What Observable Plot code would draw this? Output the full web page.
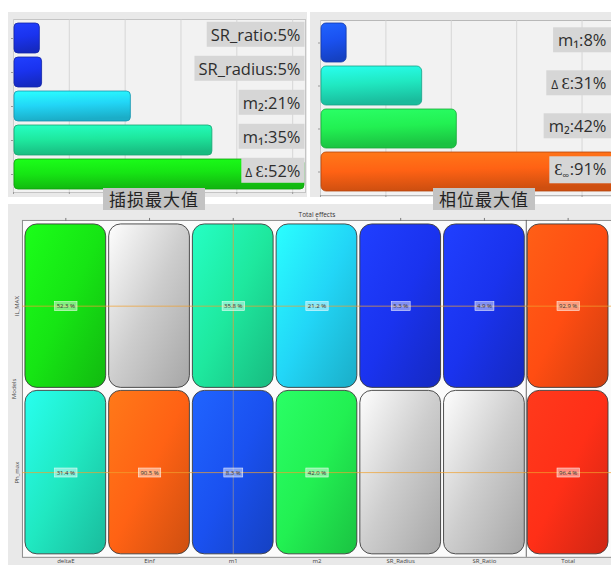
<!DOCTYPE html>
<html><head><meta charset="utf-8">
<script src="https://cdn.jsdelivr.net/npm/d3@7"></script>
<script src="https://cdn.jsdelivr.net/npm/@observablehq/plot@0.6"></script>
<style>
html,body{margin:0;padding:0;background:#fff;}
body{width:611px;height:566px;overflow:hidden;position:relative;font-family:"Open Sans",sans-serif;}
.panel{position:absolute;}
.panel svg{display:block;}
.cap{position:absolute;background:#c3c3c3;color:#222;font-family:"Noto Sans CJK SC",sans-serif;font-size:17px;line-height:22px;padding:0 6px;letter-spacing:1px;z-index:5;}
</style></head><body>
<div id="tl" class="panel" style="left:8px;top:12px"></div>
<div id="tr" class="panel" style="left:310px;top:12px"></div>
<div id="bt" class="panel" style="left:8px;top:204px"></div>
<div class="cap" style="left:103px;top:188px">插损最大值</div>
<div class="cap" style="left:433px;top:188px">相位最大值</div>
<script>
// ---- data ----
const ilFactors = ["SR_ratio", "SR_radius", "m2", "m1", "deltaE"];
const ilValues = [4.9, 5.3, 21.2, 35.8, 52.3];
const ilLabels = ["SR_ratio:5%", "SR_radius:5%", "m₂:21%", "m₁:35%", "Δ Ɛ:52%"];
const phFactors = ["m1", "deltaE", "m2", "Einf"];
const phValues = [8.3, 31.4, 42.0, 90.5];
const phLabels = ["m₁:8%", "Δ Ɛ:31%", "m₂:42%", "Ɛ∞:91%"];
const models = ["IL_MAX", "Ph_max"];
const columns = ["deltaE", "Einf", "m1", "m2", "SR_Radius", "SR_Ratio", "Total"];
const ilTotal = [52.3, null, 35.8, 21.2, 5.3, 4.9, 92.9];
const phTotal = [31.4, 90.5, 8.3, 42.0, null, null, 96.4];
const chartTitle = "Total effects";
const colorStops = [0, 6, 9, 21, 31, 36, 42, 52, 90, 93, 97];
const colorRange = ["#1a2ce6", "#1a34f0", "#1a5af0", "#22d6f8", "#20e8c4", "#1ee89c", "#22f052", "#14e614", "#ff6614", "#ff4c12", "#ff2a18"];

const colorScale = {type: "linear", domain: colorStops, range: colorRange};
const ns = "http://www.w3.org/2000/svg";
let gid = 0;

function pick(svg, desc, fallbackLabel, tag) {
  let els = svg.querySelectorAll(`g[aria-description="${desc}"] ${tag}`);
  if (!els.length) els = svg.querySelectorAll(`g[aria-label="${desc}"] ${tag}`);
  if (!els.length) els = svg.querySelectorAll(`g[aria-label="${fallbackLabel}"] ${tag}`);
  return Array.from(els);
}

function gradientize(svg, els, dir, strokeFn) {
  let defs = svg.querySelector("defs.grad");
  if (!defs) { defs = document.createElementNS(ns, "defs"); defs.setAttribute("class", "grad"); svg.insertBefore(defs, svg.firstChild); }
  els.forEach(r => {
    const base = r.getAttribute("fill") || r.parentNode.getAttribute("fill");
    const c = d3.color(base); if (!c) return;
    const id = "g" + (gid++);
    const lg = document.createElementNS(ns, "linearGradient");
    lg.setAttribute("id", id);
    lg.setAttribute("x1", 0); lg.setAttribute("y1", 0); lg.setAttribute("x2", dir[0]); lg.setAttribute("y2", dir[1]);
    [[0, c.brighter(0.6)], [0.5, c], [1, c.darker(0.6)]].forEach(([o, col]) => {
      const s = document.createElementNS(ns, "stop");
      s.setAttribute("offset", o); s.setAttribute("stop-color", col.formatHex());
      lg.appendChild(s);
    });
    defs.appendChild(lg);
    r.setAttribute("fill", `url(#${id})`);
    if (strokeFn) { r.setAttribute("stroke", strokeFn(c)); r.setAttribute("stroke-width", 0.8); }
  });
}

function richText(t) {
  const s = t.textContent;
  if (s.startsWith("Δ ")) {
    t.textContent = "";
    const a = document.createElementNS(ns, "tspan"); a.setAttribute("font-size", "12"); a.textContent = "Δ ";
    const b = document.createElementNS(ns, "tspan"); b.textContent = s.slice(2);
    t.append(a, b);
  } else if (s.includes("∞")) {
    const [pre, post] = s.split("∞");
    t.textContent = "";
    const a = document.createElementNS(ns, "tspan"); a.textContent = pre;
    const b = document.createElementNS(ns, "tspan"); b.setAttribute("font-size", "10"); b.setAttribute("dy", "4"); b.textContent = "∞";
    const c = document.createElementNS(ns, "tspan"); c.setAttribute("dy", "-4"); c.textContent = post;
    t.append(a, b, c);
  }
}

function boxLabels(els, pad, fill, stroke) {
  els.forEach(t => {
    richText(t);
    const bb = t.getBBox();
    const r = document.createElementNS(ns, "rect");
    r.setAttribute("x", bb.x - pad[0]); r.setAttribute("y", bb.y - pad[1]);
    r.setAttribute("width", bb.width + 2 * pad[0]); r.setAttribute("height", bb.height + 2 * pad[1]);
    r.setAttribute("fill", fill);
    if (stroke) { r.setAttribute("stroke", stroke); r.setAttribute("stroke-width", 0.6); }
    if (t.getAttribute("transform")) r.setAttribute("transform", t.getAttribute("transform"));
    t.parentNode.insertBefore(r, t);
  });
}

// ---- top-left: insertion loss ----
const tl = Plot.plot({
  width: 299, height: 185,
  marginLeft: 5, marginRight: 2, marginTop: 7, marginBottom: 5,
  style: {background: "#e9e9e9", fontFamily: "Open Sans"},
  x: {domain: [0, 52.3]},
  y: {domain: ilFactors, padding: 0.06},
  color: colorScale,
  marks: [
    Plot.frame({fill: "#f2f2f2", stroke: "#c4c4c4"}),
    Plot.gridX({ticks: 5, stroke: "#cfcfcf", strokeOpacity: 0.8}),
    Plot.axisX({ticks: 5, tickSize: 2, tickFormat: () => "", label: null, stroke: "#999"}),
    Plot.axisY({tickSize: 2, tickFormat: () => "", label: null, stroke: "#999"}),
    Plot.barX(ilValues, {x: d => d, y: (d, i) => ilFactors[i], fill: d => d, rx: 4, inset: 1, ariaDescription: "bars"}),
    Plot.text(ilLabels, {y: (d, i) => ilFactors[i], text: d => d, frameAnchor: "right", textAnchor: "end", dx: -5, dy: -3,
      fontSize: 16.5, fill: "#2e2e2e", ariaDescription: "vlabel"})
  ]
});
document.getElementById("tl").appendChild(tl);
gradientize(tl, pick(tl, "bars", "bar", "rect"), [0.15, 1], c => c.darker(1).formatHex());
boxLabels(pick(tl, "vlabel", "text", "text").filter(t => t.textContent.includes(":")), [4, 1], "#d6d6d6");

// ---- top-right: phase ----
const tr = Plot.plot({
  width: 301, height: 185,
  marginLeft: 10, marginRight: 0, marginTop: 8, marginBottom: 2,
  style: {background: "#e9e9e9", fontFamily: "Open Sans"},
  x: {domain: [0, 89]},
  y: {domain: phFactors, padding: 0.04},
  color: colorScale,
  marks: [
    Plot.frame({fill: "#f2f2f2", stroke: "#b8b8b8"}),
    Plot.gridX({ticks: 5, stroke: "#cfcfcf", strokeOpacity: 0.8}),
    Plot.axisX({ticks: 5, tickSize: 2, tickFormat: () => "", label: null, stroke: "#999"}),
    Plot.axisY({tickSize: 2, tickFormat: () => "", label: null, stroke: "#999"}),
    Plot.barX(phValues, {x: d => d, y: (d, i) => phFactors[i], fill: d => d, rx: 5, inset: 1, clip: true, ariaDescription: "bars"}),
    Plot.text(phLabels, {y: (d, i) => phFactors[i], text: d => d, frameAnchor: "right", textAnchor: "end", dx: -5, dy: -2,
      fontSize: 16.5, fill: "#2e2e2e", ariaDescription: "vlabel"})
  ]
});
document.getElementById("tr").appendChild(tr);
gradientize(tr, pick(tr, "bars", "bar", "rect"), [0.15, 1], c => c.darker(1).formatHex());
boxLabels(pick(tr, "vlabel", "text", "text").filter(t => t.textContent.includes(":")), [5, 1], "#d6d6d6");

// ---- bottom: total effects tiles ----
const cells = columns.flatMap((c, i) => [
  {col: c, model: models[0], v: ilTotal[i]},
  {col: c, model: models[1], v: phTotal[i]}
]);
const bt = Plot.plot({
  width: 605, height: 362,
  marginLeft: 14, marginRight: 0, marginTop: 16, marginBottom: 8,
  style: {background: "#e9e9e9", fontFamily: "Open Sans"},
  x: {domain: columns, paddingInner: 0.04, paddingOuter: 0.015},
  y: {domain: models, padding: 0.02},
  color: colorScale,
  marks: [
    Plot.frame({fill: "#fbfbfb", stroke: "#8c8c8c"}),
    Plot.axisX({anchor: "top", tickSize: 3, tickFormat: () => "", label: null, stroke: "#777"}),
    Plot.axisX({anchor: "bottom", tickSize: 0, tickPadding: 1, fontSize: 6, label: null, fill: "#444"}),
    Plot.axisY({tickRotate: -90, tickSize: 0, tickPadding: 3, fontSize: 6, label: "Models", labelAnchor: "center", labelOffset: 11, fill: "#444"}),
    Plot.cell(cells.filter(d => d.v != null), {x: "col", y: "model", fill: "v", rx: 12, stroke: "#3c3c3c", strokeWidth: 0.9, ariaDescription: "tiles"}),
    Plot.cell(cells.filter(d => d.v == null), {x: "col", y: "model", fill: "#cdcdcd", rx: 12, stroke: "#3c3c3c", strokeWidth: 0.9, ariaDescription: "tiles"}),
    Plot.ruleY(models, {y: d => d, stroke: "#f0a030", strokeWidth: 0.8, strokeOpacity: 0.9}),
    Plot.tickX([{col: "m1", model: models[0]}], {x: "col", y: "model", stroke: "#e0a040", strokeWidth: 0.8}),
    Plot.tickX([{col: "m1", model: models[1]}], {x: "col", y: "model", stroke: "#8a8aa0", strokeWidth: 0.8}),
    Plot.ruleX(["Total"], {x: d => d, dx: -42, stroke: "#555", strokeWidth: 0.9}),
    Plot.text(cells.filter(d => d.v != null), {x: "col", y: "model", text: d => d.v.toFixed(1) + " %", fontSize: 6, fill: "#333", ariaDescription: "tlabel"}),
    Plot.text([chartTitle], {frameAnchor: "top", dy: -8, fontSize: 6.5, fill: "#333"})
  ]
});
document.getElementById("bt").appendChild(bt);
gradientize(bt, pick(bt, "tiles", "cell", "rect"), [1, 1]);
boxLabels(pick(bt, "tlabel", "text", "text").filter(t => t.textContent.includes("%")), [2, 0.5], "rgba(255,255,255,0.45)", "rgba(255,255,255,0.85)");
</script>
</body></html>
